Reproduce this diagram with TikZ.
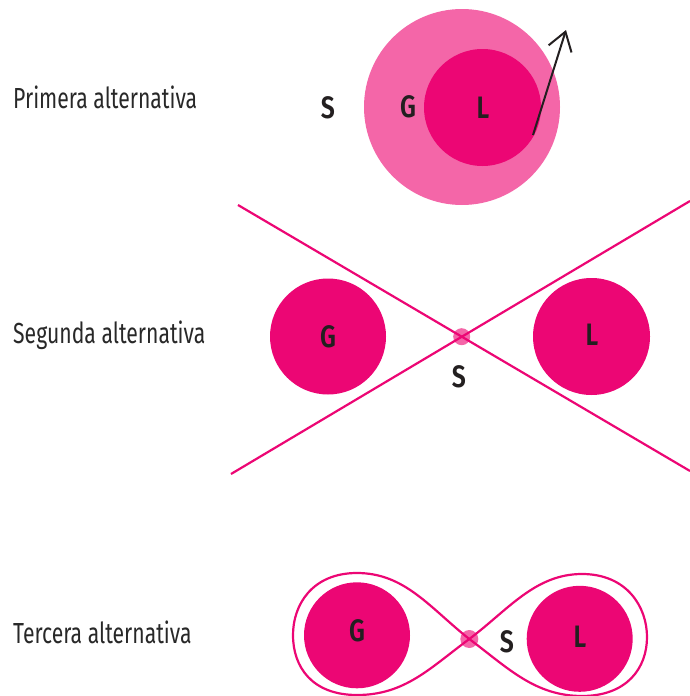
\documentclass[tikz,border=0pt]{standalone}
\usepackage{fontspec}
\setmainfont{Fira Sans}
\newfontfamily\labfont[FakeStretch=0.73]{Fira Sans}
\newfontfamily\letfont[FakeStretch=0.8]{Fira Sans SemiBold}
\usetikzlibrary{arrows.meta}
\definecolor{mag}{RGB}{236,6,116}
\definecolor{lpink}{RGB}{244,102,168}
\definecolor{ink}{RGB}{35,31,32}
\definecolor{labink}{RGB}{40,40,40}
\tikzset{
  alt/.style={anchor=base west, inner sep=0pt, text=labink, font=\labfont\fontsize{29}{30}\selectfont},
  let/.style={inner sep=0pt, text=ink, font=\letfont\fontsize{31}{32}\selectfont},
  body/.style={circle, fill=mag, inner sep=0pt, minimum size=#1},
  halo/.style={circle, fill=lpink, inner sep=0pt, minimum size=#1},
  orbit/.style={draw=mag, line width=2.2pt},
}
\begin{document}
\begin{tikzpicture}[x=1pt,y=-1pt]
\useasboundingbox (0,0) rectangle (690,696);
% Labels
\node[alt] (t1) at (13,108) {Primera alternativa};
\node[alt] (t2) at (13,343) {Segunda alternativa};
\node[alt] (t3) at (13,643) {Tercera alternativa};

% First alternative
\node[halo=196pt] (G1) at (462,107) {};
\node[body=117pt] (L1) at (482.5,107.5) {};
\node[let] (s1) at (328,108) {S};
\node[let] (g1) at (408,107) {G};
\node[let] (l1) at (483,108) {L};
\coordinate (a1) at (533,135);
\coordinate (a2) at (566,30);
\draw[line width=2pt, ink, -{Straight Barb[length=18pt,width=24pt,line width=2pt]}] (a1) -- (a2);

% Second alternative
\node[halo=17pt] (X2) at (461.7,336.7) {};
\coordinate (p1) at (238,205);
\coordinate (p2) at (690,471);
\coordinate (q1) at (231,474);
\coordinate (q2) at (690,201);
\draw[orbit] (p1) -- (p2);
\draw[orbit] (q1) -- (q2);
\node[body=116pt] (G2) at (328,336.5) {};
\node[body=117pt] (L2) at (591.5,336.5) {};
\node[let] (g2) at (328,337) {G};
\node[let] (l2) at (592,335) {L};
\node[let] (s2) at (459,377) {S};

% Third alternative
\node[halo=18pt] (X3) at (469.3,639) {};
\node[body=106pt] (G3) at (357,635.3) {};
\node[body=106pt] (L3) at (579.7,638.8) {};
\draw[orbit] (X3.center)
  .. controls (430,608) and (405,573) .. (357,573)
  .. controls (312,573) and (293,605) .. (293,635)
  .. controls (293,667) and (312,695) .. (357,695)
  .. controls (405,695) and (430,668) .. (X3.center)
  .. controls (508,610) and (535,574) .. (582,574)
  .. controls (627,574) and (647,607) .. (647,637)
  .. controls (647,668) and (627,696) .. (582,696)
  .. controls (535,696) and (508,668) .. (X3.center);
\node[let] (g3) at (357,631) {G};
\node[let] (l3) at (580,637) {L};
\node[let] (s3) at (507,642) {S};
\end{tikzpicture}
\end{document}
